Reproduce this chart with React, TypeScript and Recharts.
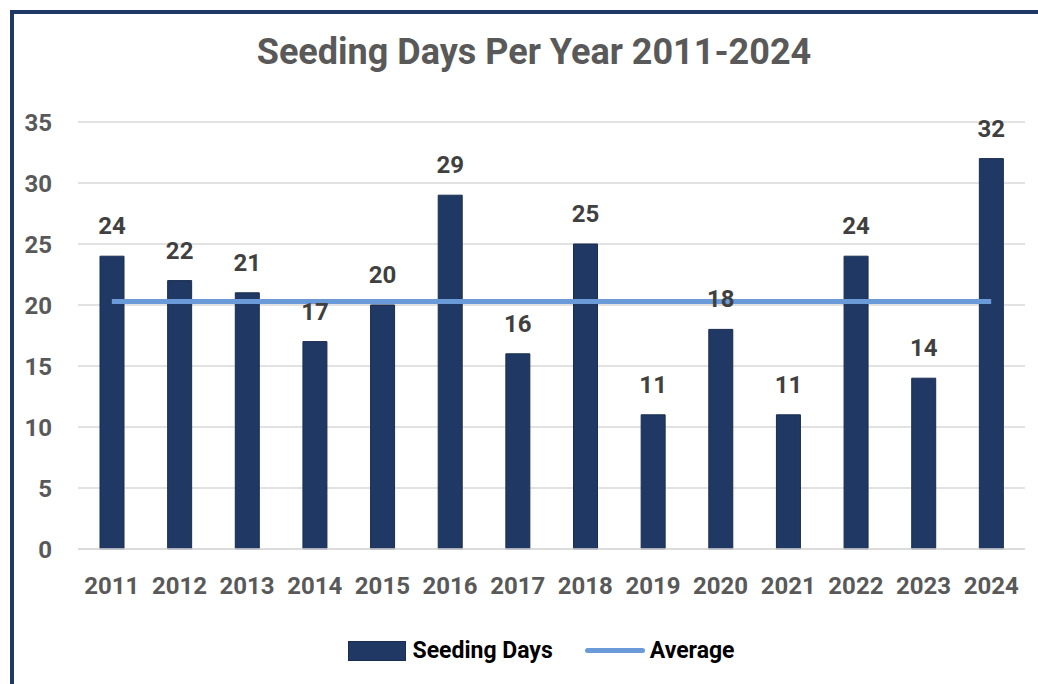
import React from "react";
import {
  ComposedChart,
  Bar,
  Line,
  XAxis,
  YAxis,
  CartesianGrid,
  Legend,
  LabelList,
} from "recharts";

const years = [
  "2011", "2012", "2013", "2014", "2015", "2016", "2017",
  "2018", "2019", "2020", "2021", "2022", "2023", "2024",
];
const seedingDays = [24, 22, 21, 17, 20, 29, 16, 25, 11, 18, 11, 24, 14, 32];
const average = 20.29;
const yTicks = [0, 5, 10, 15, 20, 25, 30, 35];

const data = years.map((year, i) => ({
  year,
  days: seedingDays[i],
  avg: average,
}));

const NAVY = "#203864";
const LIGHT = "#6a9bd8";
const GREY = "#595959";
const FONT = "'Roboto', sans-serif";

const LegendContent = () => (
  <div
    style={{
      display: "flex",
      justifyContent: "center",
      alignItems: "center",
      paddingLeft: 38,
      fontFamily: FONT,
      fontWeight: 700,
      fontSize: 23,
      color: "#000",
    }}
  >
    <span
      style={{
        display: "inline-block",
        width: 56,
        height: 18,
        background: NAVY,
        border: "1px solid #1a2d4f",
        marginRight: 6,
      }}
    />
    <span style={{ marginRight: 32 }}>Seeding Days</span>
    <span
      style={{
        display: "inline-block",
        width: 60,
        height: 5,
        borderRadius: 3,
        background: LIGHT,
        marginRight: 5,
      }}
    />
    <span>Average</span>
  </div>
);

const App: React.FC = () => {
  return (
    <div
      style={{
        position: "absolute",
        left: 0,
        top: 0,
        width: 1038,
        height: 684,
        background: "#fff",
        fontFamily: FONT,
      }}
    >
      <div
        style={{
          position: "absolute",
          left: 10,
          top: 10,
          width: 1028,
          height: 674,
          borderLeft: `4px solid ${NAVY}`,
          borderTop: `4px solid ${NAVY}`,
          boxSizing: "border-box",
        }}
      />
      <div
        style={{
          position: "absolute",
          left: 0,
          top: 31,
          width: 1068,
          textAlign: "center",
          fontSize: 36,
          fontWeight: 700,
          color: GREY,
        }}
      >
        Seeding Days Per Year 2011-2024
      </div>
      <div style={{ position: "absolute", left: 0, top: 0 }}>
        <ComposedChart
          width={1038}
          height={684}
          data={data}
          margin={{ top: 122, right: 13, left: 20, bottom: 17 }}
        >
          <CartesianGrid vertical={false} stroke="#d9d9d9" strokeWidth={1.5} />
          <XAxis
            dataKey="year"
            axisLine={{ stroke: "#d9d9d9", strokeWidth: 1.5 }}
            tickLine={false}
            tickMargin={22}
            height={88}
            tick={{ fill: GREY, fontSize: 24, fontWeight: 700, fontFamily: FONT }}
          />
          <YAxis
            domain={[0, 35]}
            ticks={yTicks}
            axisLine={false}
            tickLine={false}
            width={58}
            tickMargin={20}
            tick={{ fill: GREY, fontSize: 24, fontWeight: 700, fontFamily: FONT }}
          />
          <Legend verticalAlign="bottom" height={30} content={<LegendContent />} />
          <Bar
            dataKey="days"
            name="Seeding Days"
            fill={NAVY}
            stroke="#1a2d4f"
            strokeWidth={1}
            barSize={24}
            isAnimationActive={false}
          >
            <LabelList
              dataKey="days"
              position="top"
              offset={22}
              fill="#404040"
              fontSize={24}
              fontWeight={700}
              fontFamily={FONT}
            />
          </Bar>
          <Line
            dataKey="avg"
            name="Average"
            stroke={LIGHT}
            strokeWidth={5}
            dot={false}
            activeDot={false}
            isAnimationActive={false}
          />
        </ComposedChart>
      </div>
    </div>
  );
};

export default App;
